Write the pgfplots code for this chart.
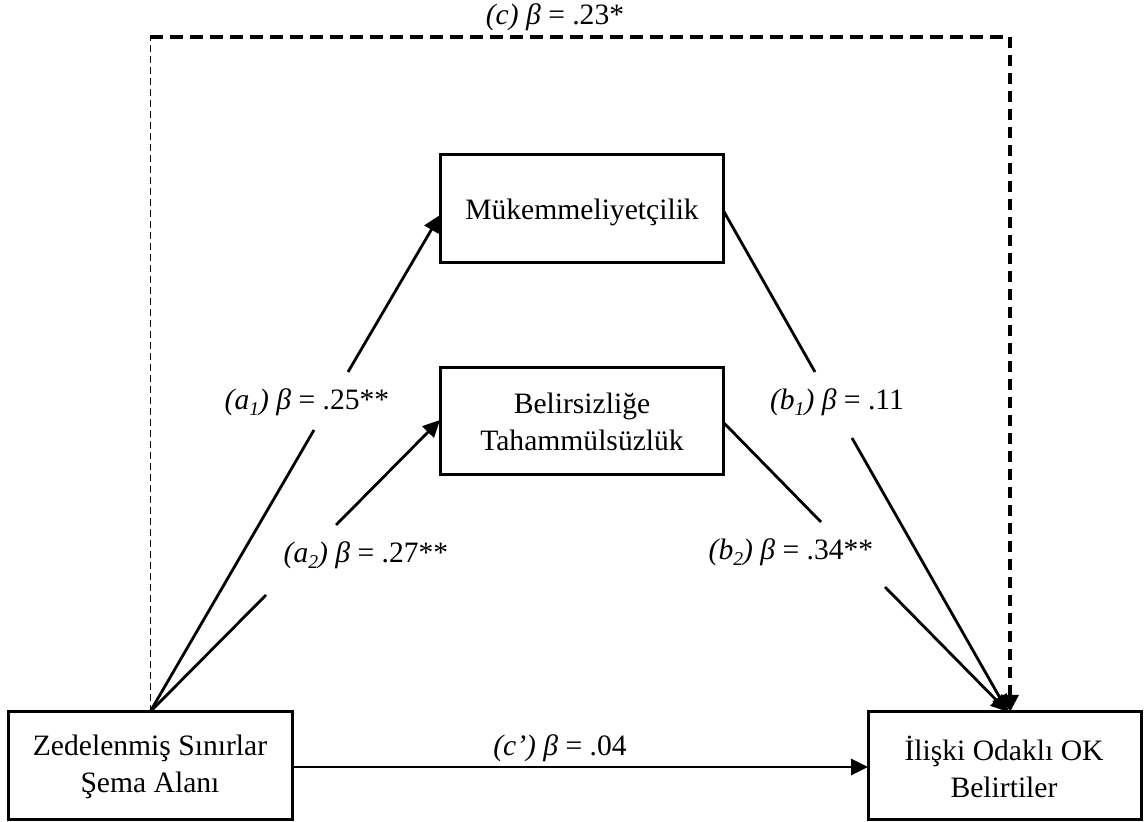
\documentclass[border=0pt]{standalone}
\usepackage{fontspec}
\setmainfont{Liberation Serif}
\usepackage{pgfplots}
\pgfplotsset{compat=1.18}
\usetikzlibrary{arrows.meta}
\tikzset{lbl/.style={font=\fontsize{14.8}{18.5}\selectfont, align=center, inner sep=0pt}}
\newcommand{\sub}[1]{\raisebox{-0.45ex}{\fontsize{9.8}{10}\selectfont\itshape #1}}
\begin{document}
\begin{tikzpicture}
\begin{axis}[
  width=573pt, height=411pt, scale only axis,
  xmin=0, xmax=1146, ymin=0, ymax=822, y dir=reverse,
  axis lines=none, clip=false,
]
\path (rel axis cs:0,0) rectangle (rel axis cs:1,1);
% boxes
\addplot[black, mark=none, line width=1.5pt, line cap=rect] coordinates {(8,712) (292,712) (292,820) (8,820) (8,712)};
\addplot[black, mark=none, line width=1.5pt, line cap=rect] coordinates {(868,712) (1141,712) (1141,820) (868,820) (868,712)};
\addplot[black, mark=none, line width=1.5pt, line cap=rect] coordinates {(440,155) (723,155) (723,263) (440,263) (440,155)};
\addplot[black, mark=none, line width=1.5pt, line cap=rect] coordinates {(440,368) (723,368) (723,475) (440,475) (440,368)};
% a1
\addplot[black, mark=none, line width=1.4pt] coordinates {(150,712) (314,430)};
\addplot[black, mark=none, line width=1.4pt, -{Triangle[length=8.5pt,width=8pt]}] coordinates {(348,372) (440,215)};
% a2
\addplot[black, mark=none, line width=1.4pt] coordinates {(150,712) (266,595)};
\addplot[black, mark=none, line width=1.4pt, -{Triangle[length=8.5pt,width=8pt]}] coordinates {(336,525) (440,420)};
% b1
\addplot[black, mark=none, line width=1.4pt] coordinates {(723,210) (815,372)};
\addplot[black, mark=none, line width=1.4pt, -{Triangle[length=8.5pt,width=8pt]}] coordinates {(852,438) (1008,712)};
% b2
\addplot[black, mark=none, line width=1.4pt] coordinates {(723,422) (821,522)};
\addplot[black, mark=none, line width=1.4pt, -{Triangle[length=8.5pt,width=8pt]}] coordinates {(885,587) (1008,712)};
% c'
\addplot[black, mark=none, line width=1.4pt, -{Triangle[length=8.5pt,width=8pt]}] coordinates {(292,767) (868,767)};
% c (dashed)
\addplot[black, mark=none, line width=0.5pt, dash pattern=on 3.5pt off 2pt] coordinates {(150,712) (150,37)};
\addplot[black, mark=none, line width=1.6pt, dash pattern=on 6.5pt off 3.5pt] coordinates {(150,37) (1010,37)};
\addplot[black, mark=none, line width=1.6pt, dash pattern=on 5.5pt off 3.5pt, -{Triangle[length=8.5pt,width=8.5pt]}] coordinates {(1010,37) (1010,712)};
% texts
\node[lbl] at (axis cs:150,767) {Zedelenmiş Sınırlar\\Şema Alanı};
\node[lbl] at (axis cs:1004,767) {İlişki Odaklı OK\\Belirtiler};
\node[lbl] at (axis cs:582,212) {Mükemmeliyetçilik};
\node[lbl] at (axis cs:582,422) {Belirsizliğe\\Tahammülsüzlük};
\node[lbl] at (axis cs:555,17) {{\itshape (c) β} = .23*};
\node[lbl] at (axis cs:307,402) {{\itshape (a\sub{1}) β} = .25**};
\node[lbl] at (axis cs:366,555) {{\itshape (a\sub{2}) β} = .27**};
\node[lbl] at (axis cs:837,402) {{\itshape (b\sub{1}) β} = .11};
\node[lbl] at (axis cs:791,552) {{\itshape (b\sub{2}) β} = .34**};
\node[lbl] at (axis cs:560,748) {{\itshape (c’) β} = .04};
\end{axis}
\end{tikzpicture}
\end{document}
